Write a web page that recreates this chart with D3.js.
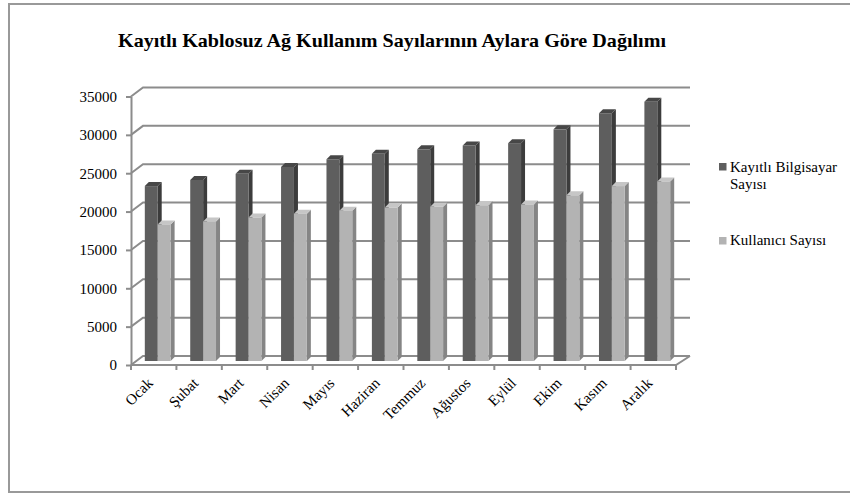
<!DOCTYPE html>
<html>
<head>
<meta charset="utf-8">
<script src="https://cdn.jsdelivr.net/npm/d3@7"></script>
<style>
  body { margin: 0; background: #fff; }
  svg { display: block; }
  text { font-family: "Liberation Serif", "Times New Roman", serif; }
</style>
</head>
<body>
<svg id="chart" width="850" height="494"></svg>
<script>
// data
const months = ['Ocak', 'Şubat', 'Mart', 'Nisan', 'Mayıs', 'Haziran', 'Temmuz', 'Ağustos', 'Eylül', 'Ekim', 'Kasım', 'Aralık'];
const bilgisayar = [22800, 23600, 24400, 25300, 26300, 27000, 27600, 28100, 28400, 30200, 32300, 33800];
const kullanici = [17800, 18200, 18700, 19200, 19600, 20000, 20100, 20300, 20400, 21600, 22800, 23400];
const seriesNames = ['Kayıtlı Bilgisayar Sayısı', 'Kullanıcı Sayısı'];
const yTicks = [0, 5000, 10000, 15000, 20000, 25000, 30000, 35000];

const serif = '"Liberation Serif", "Times New Roman", serif';
const svg = d3.select('#chart');
const w = 850;
const h = 494;

// outer frame
svg.append('rect')
  .attr('x', 9).attr('y', 4)
  .attr('width', w).attr('height', h - 6)
  .attr('fill', '#fff').attr('stroke', '#999').attr('stroke-width', 2);

svg.append('text')
  .attr('x', 392).attr('y', 47)
  .attr('text-anchor', 'middle')
  .attr('font-family', serif)
  .attr('font-weight', 'bold')
  .attr('font-size', 19)
  .attr('textLength', 548)
  .attr('lengthAdjust', 'spacingAndGlyphs')
  .text('Kayıtlı Kablosuz Ağ Kullanım Sayılarının Aylara Göre Dağılımı');

// front plane
const x0 = 131, x1 = 676;
const yBase = 365, yTop = 96.5;
// depth offset of the back wall, and of the bars (middle)
const dx = 12, dy = -9;
const bdx = 4, bdy = -4;
const depth = 4;

const x = d3.scaleBand().domain(months).range([x0, x1]);
const y = d3.scaleLinear().domain([0, 35000]).range([yBase, yTop]);

const gridColor = '#8c8c8c';

// gridlines: side wall + back wall
svg.append('g').selectAll('path')
  .data(yTicks)
  .enter()
  .append('path')
  .attr('d', (d) => {
    const yy = y(d);
    return 'M' + x0 + ',' + yy + 'L' + (x0 + dx) + ',' + (yy + dy) + 'L' + (x1 + dx + 2) + ',' + (yy + dy);
  })
  .attr('fill', 'none')
  .attr('stroke', gridColor)
  .attr('stroke-width', 2);

// floor front and right edge
svg.append('path')
  .attr('d', 'M' + x0 + ',' + yBase + 'L' + x1 + ',' + yBase + 'L' + (x1 + dx + 2) + ',' + (yBase + dy))
  .attr('fill', 'none')
  .attr('stroke', gridColor)
  .attr('stroke-width', 2);

// y axis (front)
const yAxis = d3.axisLeft(y).tickValues(yTicks).tickSize(5).tickSizeOuter(0).tickPadding(9).tickFormat(d3.format('d'));
const gy = svg.append('g').attr('transform', 'translate(' + x0 + ',0)').call(yAxis);
gy.attr('font-family', serif).attr('font-size', 15);
gy.select('.domain').attr('stroke', gridColor).attr('stroke-width', 2);
gy.selectAll('.tick line').attr('stroke', gridColor).attr('stroke-width', 2);
gy.selectAll('.tick text').attr('fill', '#000');

// x axis ticks at band edges
const edges = months.map((m) => x(m)).concat([x1]);
svg.append('g').selectAll('line')
  .data(edges)
  .enter()
  .append('line')
  .attr('x1', (d) => d).attr('x2', (d) => d)
  .attr('y1', yBase).attr('y2', yBase + 5)
  .attr('stroke', gridColor).attr('stroke-width', 2);

// x labels
svg.append('g').selectAll('text')
  .data(months)
  .enter()
  .append('text')
  .attr('transform', (d) => 'translate(' + (x(d) + x.bandwidth() / 2) + ',' + (yBase + 19) + ') rotate(-45)')
  .attr('text-anchor', 'end')
  .attr('font-family', serif)
  .attr('font-size', 15)
  .text((d) => d);

// bars in the middle depth plane, group ~26px wide in a 45.4 band
const groupW = 25.8;
const colors = [
  { front: '#5e5e5e', side: '#3c3c3c', top: '#474747' },
  { front: '#b3b3b3', side: '#858585', top: '#c6c6c6' }
];
const series = [bilgisayar, kullanici];

const bars = svg.append('g');
months.forEach((m, i) => {
  const cx = x(m) + x.bandwidth() / 2 + bdx;
  series.forEach((vals, s) => {
    const bw = groupW / 2;
    const left = cx - groupW / 2 + s * bw;
    const right = left + bw;
    const top = y(vals[i]) + bdy;
    const bottom = yBase + bdy;
    const c = colors[s];
    // side face
    bars.append('path')
      .attr('d', 'M' + right + ',' + bottom + 'L' + right + ',' + top + 'L' + (right + depth) + ',' + (top - depth) + 'L' + (right + depth) + ',' + (bottom - depth) + 'Z')
      .attr('fill', c.side);
    // top face
    bars.append('path')
      .attr('d', 'M' + left + ',' + top + 'L' + (left + depth) + ',' + (top - depth) + 'L' + (right + depth) + ',' + (top - depth) + 'L' + right + ',' + top + 'Z')
      .attr('fill', c.top);
    // front face
    bars.append('rect')
      .attr('x', left).attr('y', top)
      .attr('width', bw).attr('height', bottom - top)
      .attr('fill', c.front);
  });
});

// legend
const legend = svg.append('g').attr('font-family', serif).attr('font-size', 15);
const legendY = [163, 237];
seriesNames.forEach((name, s) => {
  legend.append('rect')
    .attr('x', 719).attr('y', legendY[s])
    .attr('width', 7.5).attr('height', 7.5)
    .attr('fill', s === 0 ? '#5e5e5e' : '#b3b3b3');
});
const t0 = legend.append('text').attr('x', 730).attr('y', 172);
t0.append('tspan').attr('x', 730).text('Kayıtlı Bilgisayar');
t0.append('tspan').attr('x', 730).attr('dy', 17).text('Sayısı');
legend.append('text').attr('x', 730).attr('y', 245).text(seriesNames[1]);
</script>
</body>
</html>
